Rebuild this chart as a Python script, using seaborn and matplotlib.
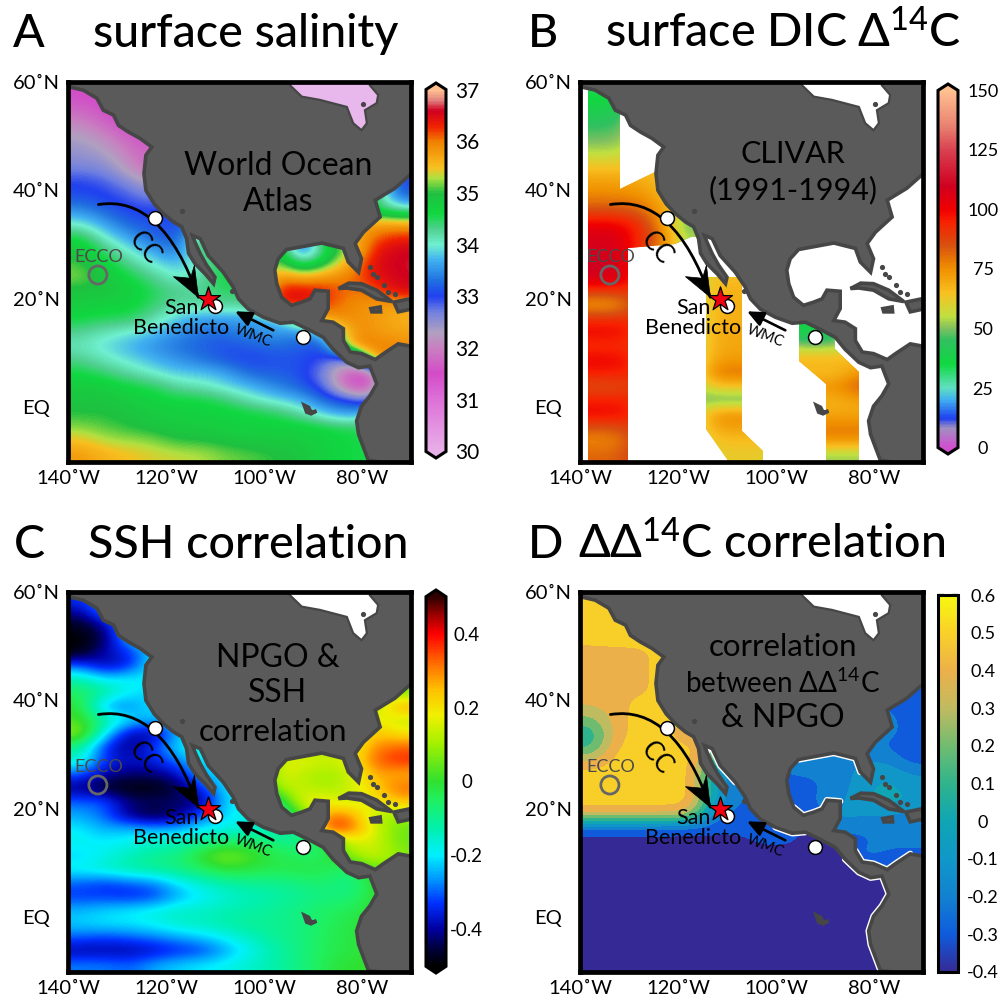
import numpy as np
import pandas as pd
import matplotlib
matplotlib.use('Agg')
import matplotlib.pyplot as plt
import seaborn as sns
from matplotlib.colors import LinearSegmentedColormap, BoundaryNorm
from matplotlib.patches import Polygon, FancyArrowPatch, PathPatch
from matplotlib.path import Path
from matplotlib.transforms import Affine2D, ScaledTranslation

sns.set_theme(style='white')
plt.rcParams['font.family'] = ['Lato', 'DejaVu Sans']
plt.rcParams['mathtext.default'] = 'regular'

# grid: 14 columns of 5 deg, 28 rows of 2.5 deg, north to south
LONS = np.arange(-137.5, -70, 5)
LATS = np.arange(58.75, -10, -2.5)

# panel A, salinity, one list per longitude column
SALT = [
    [31.5,31.6,31.9,32.2,32.4,32.5,32.7,33,33.1,33.5,34,34.6,34.9,35.1,35.2,34.9,34.8,34.6,34.3,34.1,34.3,34.6,34.8,34.9,35,35.2,35.5,35.8],
    [31.5,31.5,31.6,31.9,32.2,32.4,32.6,32.9,33,33.2,33.6,34,34.4,34.7,34.9,34.9,34.7,34.5,34.1,33.9,34.1,34.4,34.8,34.9,35,35.1,35.3,35.6],
    [31.3,31.3,31.3,31.5,31.8,32,32.2,32.6,32.9,33,33.2,33.6,34,34.3,34.6,34.8,34.7,34.5,34,33.7,33.9,34.2,34.6,34.8,34.9,35,35.25,35.5],
    [31.5]*5 + [31.6,31.7,32.2,32.6,33,33.1,33.2,33.6,34,34.3,34.5,34.4,34.2,33.8,33.5,33.7,34,34.5,34.7,34.8,34.9,35.2,35.4],
    [33]*9 + [33,33.1,33.1,33.3,33.7,34,34.3,34.2,33.8,33.5,33.3,33.5,33.8,34.2,34.6,34.75,34.8,35,35.35],
    [33.2]*11 + [34.6,34.6,34.1,34.2,34.3,34.2,33.6,33.3,33.2,33.3,33.8,34.1,34.6,34.7,34.8,35,35.3],
    [34.7]*13 + [34.7,34.7,34.5,34.3,33.6,33.3,33.1,33.1,33.6,33.9,34.4,34.7,34.7,34.9,35.15],
    [34.4]*16 + [34.2,33.6,33.5,33.2,33,33.2,33.7,34.1,34.6,34.7,34.85,35.1],
    [35]*12 + [35.3,35.5,36,36.4,36.4,33.7,33.6,33.3,33.1,33.2,33.4,33.9,34.5,34.7,34.8,35],
    [34]*11 + [33,33,34.3,35.7,36.5,36.4,35,33.4,33.2,33.1,33.1,33.2,33.7,34.2,34.7,34.8,34.9],
    [35]*12 + [34.6,35,35.9,36.3,36.2,35.9,34,33,32.9,32.6,32.8,33.2,33.8,34.6,34.7,34.7],
    [35.5]*11 + [35.5,35.3,35.8,36,36,35.9,35.9,35.9,36,32.5,31.5,31.5,33,33.5,34.5,34.6,34.6],
    [34.5]*9 + [34.5,35.8,36.1,36.4,36.5,36.4,36.1,35.8,35.8,35.8,36,36,31.5,31.5,32.5,34,34.5,34.5,34.5],
    [33]*8 + [33.2,34.2,35.7,36.3,36.6,36.6,36.6,36.5,35.7,35.6,35.7,35.9,36,36,36,36,36,36,36,36],
]

# panel B, CLIVAR sections, columns reused over each track
DIC_WEST = [33,36,41,46,50,56,66,72,77,85,100,108,108,110,108,90,72,92,100,92,100,96,85,95,100,85,76,82]
DIC_WEDGE = [60]*6 + [66,70,75,82,92,92] + [92]*16
DIC_COAST = [60]*6 + [65,65,68,70,70,78] + [70]*16
DIC_SHORE = [50]*9 + [55,40,45] + [50]*16
DIC_MID = [65]*14 + [65,68,68,68,70,70,72,80,65,45,75,72,65,62]
DIC_EAST = [40]*17 + [35,38,50,68,65,75,68,70,78,75,52]
DIC_EDGE = [65]*21 + [75,85,72,70,78,75,52]
DIC = [DIC_WEST, DIC_WEST, DIC_WEDGE, DIC_COAST, DIC_SHORE, DIC_MID, DIC_MID, DIC_MID,
       DIC_EAST, DIC_EAST, DIC_EAST, DIC_EDGE, DIC_EDGE, DIC_EDGE]

# panel C, SSH correlation
SSH = [
    [-.33,-.4,-.48,-.5,-.5,-.3,-.12,-.05,0,.02,.1,-.1,-.15,-.3,-.42,-.3,-.25,-.2,-.18,-.22,-.18,-.3,-.33,-.24,-.22,-.3,-.4,-.28],
    [-.25,-.25,-.4,-.45,-.38,-.4,-.2,-.1,-.28,-.1,-.2,-.35,-.33,-.4,-.48,-.3,-.3,-.25,-.2,-.18,-.15,-.33,-.33,-.22,-.2,-.32,-.4,-.28],
    [-.2,-.2,-.2,-.2,-.35,-.35,-.18,-.2,-.28,-.2,-.4,-.42,-.38,-.42,-.5,-.42,-.42,-.24,-.18,-.14,-.12,-.3,-.35,-.2,-.2,-.3,-.4,-.3],
    [-.2]*4 + [-.2,-.18,-.2,-.22,-.2,-.25,-.4,-.33,-.35,-.42,-.5,-.42,-.48,-.25,-.15,-.1,-.1,-.28,-.33,-.18,-.18,-.28,-.38,-.25],
    [-.2]*9 + [-.2,-.25,-.2,-.28,-.38,-.45,-.43,-.42,-.25,-.14,-.08,-.08,-.2,-.25,-.15,-.15,-.25,-.35,-.22],
    [-.15]*11 + [-.15,-.2,-.22,-.32,-.42,-.3,-.2,-.1,.02,-.05,-.15,-.2,-.15,-.14,-.22,-.33,-.2],
    [-.2]*13 + [-.22,-.2,-.2,-.2,-.18,-.05,.08,0,-.12,-.16,-.13,-.12,-.18,-.25,-.18],
    [-.18]*16 + [-.18,-.16,-.05,.02,-.02,-.1,-.14,-.12,-.1,-.14,-.18,-.15],
    [.1]*12 + [.15,.18,.12,-.1,-.15,-.15,-.08,-.03,-.03,-.1,-.12,-.1,-.1,-.1,-.12,-.12],
    [.1]*12 + [.18,.12,.14,.18,0,-.12,-.1,-.05,-.02,-.08,-.1,-.08,-.08,-.08,-.08,-.08],
    [.1]*12 + [.14,.1,.1,.18,.3,.4,-.05,-.05,-.03,-.06,-.08,-.05,-.05,-.04,-.04,-.03],
    [.1]*10 + [.15,.15,.17,.12,.15,.12,.3,.35,.15,.1,-.08,-.1,-.08,-.04,-.02,-.02,-.02,0],
    [.2]*8 + [.1,.2,.25,.3,.33,.28,.22,.2,.1,.15,.15,.15,.05,0,0,0,0,0,0,0],
    [.05]*8 + [.3,.12,.2,.33,.38,.25,.33,.25,.1,.05,.05,.08] + [.05]*8,
]

# panel D, delta delta 14C correlation
DDC = [
    [.5]*4 + [.4,.4,.4,.4,.35,.2,.05,.1,.35,.5,.5,.5,.35,-.3] + [-.4]*10,
    [.5]*4 + [.42,.42,.45,.45,.4,.42,.42,.48,.5,.5,.5,.5,.35,-.3] + [-.4]*10,
    [.5]*4 + [.42,.42,.42,.42,.5,.5,.5,.5,.5,.5,.5,.5,.35,-.3] + [-.4]*10,
    [.5]*16 + [.35,-.3] + [-.4]*10,
    [.5]*10 + [.3,.5,.5,.5,.5,.5,.3,-.3] + [-.4]*10,
    [.3]*12 + [.1,-.1,-.05,-.1,-.25,-.3] + [-.4]*10,
    [-.25]*13 + [-.25,-.25,-.25,-.28,-.33,-.38] + [-.4]*9,
    [-.3]*17 + [-.3,-.33] + [-.4]*9,
    [-.25]*12 + [-.2,-.25,-.25,-.3,-.3,-.3,-.33] + [-.4]*9,
    [-.25]*12 + [-.22,-.25,-.28,-.25,-.35,-.38,-.4] + [-.4]*9,
    [-.25]*12 + [-.2,-.2,-.2,-.2,-.1,-.15,-.4] + [-.4]*9,
    [-.25]*12 + [-.15,-.12,-.1,-.05,-.15,-.25,-.25,-.2] + [-.4]*8,
    [-.25]*9 + [-.2,-.2,-.25,-.15,-.05,0,0,-.15,-.2,-.25,-.25] + [-.4]*8,
    [-.3]*9 + [-.3,-.3,-.33,-.3,-.15,-.1,-.05,-.2,-.25,-.25,-.25] + [-.25]*8,
]

# colour scales, (value, colour)
SALT_COLORS = [(30,'#E8B0E8'),(31,'#DD70D8'),(31.5,'#D34CC8'),(32,'#C880C0'),(32.3,'#B0A0C0'),(32.7,'#7080E0'),
               (33,'#2040F0'),(33.3,'#2070E0'),(33.7,'#40B0F0'),(34,'#70F0D0'),(34.3,'#50D090'),(34.6,'#10D840'),
               (35,'#20C040'),(35.3,'#B0E040'),(35.5,'#F8C020'),(36,'#F08000'),(36.3,'#F02000'),(36.6,'#D00020'),
               (36.8,'#E08080'),(37,'#FFC090')]
DIC_COLORS = [(0,'#D050D0'),(8,'#A090C0'),(12,'#2040F0'),(20,'#40B0F0'),(25,'#60E0C0'),(35,'#10D840'),(45,'#30C060'),
              (50,'#80C060'),(55,'#C0E040'),(65,'#F8C020'),(75,'#F09000'),(85,'#D85010'),(95,'#F82000'),(100,'#F00000'),
              (110,'#D00020'),(125,'#D84050'),(135,'#E88070'),(150,'#FFC090')]
SSH_COLORS = [(-.5,'#000000'),(-.45,'#000040'),(-.4,'#0000A0'),(-.33,'#0030FF'),(-.27,'#0090FF'),(-.2,'#00F0FF'),
              (-.13,'#00F0B0'),(-.05,'#20F060'),(0,'#30E030'),(.1,'#A0F000'),(.18,'#F0F000'),(.25,'#FFC000'),
              (.33,'#FF6000'),(.4,'#FF0000'),(.45,'#A00000'),(.5,'#300000')]
DDC_COLORS = [(-.4,'#352A95'),(-.3,'#0F5CDD'),(-.2,'#1282D0'),(-.1,'#1098C8'),(0,'#0FA5B4'),(.1,'#30B48C'),
              (.2,'#70BC70'),(.3,'#C0BB60'),(.4,'#ECB04A'),(.5,'#F9D029'),(.6,'#F8F810')]

# coast outline, lon / lat
COAST_LON = [-140,-139.3,-136.9,-134.1,-132.8,-130.7,-129.7,-127.7,-125.3,-122.9,-124.1,-124.5,-124.1,-122.4,-120.5,
             -118.5,-116.8,-115.8,-115.4,-114.1,-112,-110.3,-110,-111.7,-113,-114.1,-114.6,-113,-111.4,-108.3,-106.3,
             -105.2,-103.2,-100.1,-96.7,-94,-90.6,-87.9,-85.9,-83.1,-80.7,-78.4,-77,-78.4,-80.1,-81.1,-80.7,-78.7,
             -69,-69,-72.6,-75.6,-77.3,-80.1,-82.4,-83.8,-83.8,-85.9,-88.2,-86.9,-86.9,-89.6,-90.6,-92.3,-94.4,-96.4,
             -97.4,-97.8,-97.1,-95.4,-90.6,-88.2,-83.8,-82.8,-80.7,-80.1,-81.4,-79.7,-76.3,-77.3,-73.3,-70.3,-69,-69,-140]
COAST_LAT = [59.8,59,58.5,57,54.8,53.9,52,50.8,49.6,48,46.5,43.1,40,37.5,35.7,34.2,33.3,31.1,28.4,26.5,24.6,22.8,24,
             26.2,28.3,30.5,31.7,31.1,28,24.9,22.2,20,18.1,16.6,15.5,15.7,14.2,12.9,10.7,8.3,7.3,7.6,4.3,2.1,0.2,-2.5,
             -5,-9.8,-11,11.1,11.7,9.9,8.8,9.9,10.2,12.3,14.5,15.7,16,18.2,21.4,21.6,20,19.4,18.8,20.3,22.8,25.3,27.4,
             29.1,29.9,30.3,29.3,26.8,24.9,27.4,30.2,32.3,35.1,38.2,40.4,42.8,42.8,61,61]
HUDSON_LON = [-94.7,-92.3,-88.6,-83.1,-81.8,-80.1,-79,-79.4,-77,-76.7,-78.4,-78.4,-94.7]
HUDSON_LAT = [59.4,57.3,56.7,55.4,52.4,51.1,52.4,54.8,56.1,57.6,59.4,61,61]
CUBA_LON = [-84.8,-82.7,-80.1,-77,-73.9,-77,-80.1,-83.1]
CUBA_LAT = [21.9,22.9,22.8,21.6,19.5,20,21.6,22]
HISPANIOLA_LON = [-73.5,-70.3,-69.5,-72.6]
HISPANIOLA_LAT = [19.4,20,18.2,17.6]
JAMAICA_LON = [-78.2,-76.3,-76.2,-78]
JAMAICA_LAT = [18.2,18.5,17.6,17.6]
GALAPAGOS_LON = [-91.8,-90.9,-90.4,-89.3,-90.4,-91.3]
GALAPAGOS_LAT = [0.4,0.0,-0.9,-0.7,-1.2,-0.9]
ISLES_LON = [-78.4,-77.7,-77,-75.6,-74.6,-73.3,-79.7,-116.8,-106.5]
ISLES_LAT = [25.9,24.6,24,22.5,21.2,20.9,55.9,36.2,21.4]
# coast stretches with a white rim in panel D, index ranges into COAST_*
FRINGES = [(25, 30), (33, 36), (38, 48), (50, 56), (60, 66), (69, 74)]

# CLIVAR tracks in panel B
TRACK_WEST_LON = [-138.4,-131.8,-131.8,-124.6,-118,-113,-117.3,-120.7,-130.3,-130.3,-138.4]
TRACK_WEST_LAT = [60,60,40.3,43.4,43,31.5,31.4,30.2,29.4,-10,-10]
TRACK_MID_LON = [-114.2,-106.9,-106.9,-102.7,-102.7,-109.5,-114.2]
TRACK_MID_LAT = [24.1,24.1,-4.3,-8,-10,-10,-4]
TRACK_EAST_LON = [-95.3,-88.2,-88,-83,-83,-89.7,-89.7,-95.3]
TRACK_EAST_LAT = [15.7,15.7,10.8,6.5,-10,-10,4.3,8.6]

# sites
SITE_LON = [-122.2, -92, -110]
SITE_LAT = [35, 12.9, 18.7]
STAR_LON, STAR_LAT = -111.4, 20
ECCO_LON, ECCO_LAT = -133.9, 24.4
CC_LON = [-133.8, -120.8, -113.4]
CC_LAT = [37.4, 39.3, 20.3]
CC_HEAD_LON = [-113.4, -118.5, -115, -114.2]
CC_HEAD_LAT = [20.3, 24.1, 23.8, 26.2]
WMC_LON = [-98.1, -105.9]
WMC_LAT = [14.2, 17.7]

XTICK_LON = [-140, -120, -100, -80]
XTICK_TXT = ['140˚W', '120˚W', '100˚W', '80˚W']
YTICK_LAT = [60, 40, 20, 0]
YTICK_TXT = ['60˚N', '40˚N', '20˚N', 'EQ']

LAND = '#5A5A5A'
EDGE = '#464646'

fig = plt.figure(figsize=(10, 10), dpi=100, facecolor='white')
px = Affine2D().scale(1 / 1000, -1 / 1000).translate(0, 1) + fig.transFigure


def make_cmap(nodes):
    lo, hi = nodes[0][0], nodes[-1][0]
    return LinearSegmentedColormap.from_list('m', [((v - lo) / (hi - lo), c) for v, c in nodes], N=256)


def draw_panel(columns, nodes, box, cbox, ticks, labels, extend, dx, dy, hudson, stepped=False, tracks=None, label_size=15, label_pad=15):
    ax = fig.add_axes([box[0] / 1000, 1 - box[3] / 1000, (box[2] - box[0]) / 1000, (box[3] - box[1]) / 1000])
    cax = fig.add_axes([cbox[0] / 1000, 1 - cbox[3] / 1000, (cbox[2] - cbox[0]) / 1000, (cbox[3] - cbox[1]) / 1000])
    grid = pd.DataFrame(np.array(columns, dtype=float).T, index=LATS, columns=LONS)
    cmap = make_cmap(nodes)
    cmap = cmap.with_extremes(under=cmap(0.0), over=cmap(1.0))
    vmin, vmax = nodes[0][0], nodes[-1][0]
    kws = {'ticks': ticks}
    if extend:
        kws.update(extend='both', extendfrac=0.018)
    sns.heatmap(grid, ax=ax, cbar_ax=cax, cmap=cmap, vmin=vmin, vmax=vmax, xticklabels=False, yticklabels=False, cbar_kws=kws)
    mesh = ax.collections[0]
    # smooth version of the same cells, over the blocks
    im_kws = {'vmin': vmin, 'vmax': vmax}
    if stepped:
        im_kws = {'norm': BoundaryNorm(np.arange(-.45, .66, .1), 256)}
    im = ax.imshow(grid.values, cmap=cmap, aspect='auto', interpolation='bicubic', extent=(0, 14, 28, 0), zorder=2, **im_kws)
    ax.set_xlim(0, 14)
    ax.set_ylim(28, 0)
    ax.autoscale(False)
    ax.set_facecolor('white')
    geo = Affine2D().translate(140, -60).scale(1 / 70, 1 / 70).translate(0, 1) + ax.transAxes

    if tracks is not None:
        paths = [Path(np.column_stack([lo, la]), closed=False) for lo, la in tracks]
        clip = PathPatch(Path.make_compound_path(*paths), transform=geo)
        mesh.set_clip_path(clip)
        im.set_clip_path(clip)

    if stepped:
        for a, b in FRINGES:
            ax.plot(COAST_LON[a:b], COAST_LAT[a:b], color='white', lw=4.6, transform=geo, zorder=2.9)

    # land on top of the field
    for lo, la in [(COAST_LON, COAST_LAT), (CUBA_LON, CUBA_LAT), (HISPANIOLA_LON, HISPANIOLA_LAT),
                   (JAMAICA_LON, JAMAICA_LAT), (GALAPAGOS_LON, GALAPAGOS_LAT)]:
        ax.add_patch(Polygon(np.column_stack([lo, la]), closed=True, fc=LAND, ec=EDGE, lw=2.6, transform=geo, zorder=3))
    ax.add_patch(Polygon(np.column_stack([HUDSON_LON, HUDSON_LAT]), closed=True, fc=hudson, ec=EDGE, lw=1.6, transform=geo, zorder=3.1))
    ax.scatter(ISLES_LON, ISLES_LAT, s=14, c=EDGE, lw=0, transform=geo, zorder=3.2)

    # currents
    cc = Path(np.column_stack([CC_LON, CC_LAT]), [Path.MOVETO, Path.CURVE3, Path.CURVE3])
    ax.add_patch(FancyArrowPatch(path=cc, arrowstyle='-', mutation_scale=1, lw=2, color='black', transform=geo, zorder=5))
    ax.add_patch(Polygon(np.column_stack([CC_HEAD_LON, CC_HEAD_LAT]), closed=True, fc='black', ec='black', lw=0.5, transform=geo, zorder=5))
    wmc = Path(np.column_stack([WMC_LON, WMC_LAT]))
    ax.add_patch(FancyArrowPatch(path=wmc, arrowstyle='-|>,head_length=10,head_width=4.5', mutation_scale=1, lw=1.9, color='black',
                                 transform=geo, zorder=5))

    ax.scatter(SITE_LON, SITE_LAT, s=100, c='white', edgecolors='black', lw=1.1, transform=geo, zorder=6)
    ax.scatter([STAR_LON], [STAR_LAT], s=330, marker='*', c='#F00010', edgecolors='black', lw=0.9, transform=geo, zorder=7)
    ax.scatter([ECCO_LON], [ECCO_LAT], s=170, facecolors='none', edgecolors='#666666', lw=2, transform=geo, zorder=6)

    fig.text(99 + dx, 257 + dy, 'ECCO', transform=px, fontsize=13, color='#4A4A4A', ha='center', va='center', zorder=8)
    fig.text(181 + dx, 308 + dy, 'San', transform=px, fontsize=15.5, color='black', ha='center', va='center', zorder=8)
    fig.text(181 + dx, 328 + dy, 'Benedicto', transform=px, fontsize=15.5, color='black', ha='center', va='center', zorder=8)
    fig.text(253 + dx, 336 + dy, 'WMC', transform=px, fontsize=10.5, color='black', rotation=-21, ha='center', va='center', zorder=8)
    fig.text(145 + dx, 248 + dy, 'CC', transform=px, fontsize=18.5, color='black', rotation=-50, ha='center', va='center', zorder=8)

    ax.set_xticks([(v + 140) / 5 for v in XTICK_LON])
    ax.set_xticklabels(XTICK_TXT, fontsize=14.5, color='black')
    ax.set_yticks([(60 - v) / 2.5 for v in YTICK_LAT])
    ax.set_yticklabels(YTICK_TXT, fontsize=14.5, color='black', rotation=0)
    ax.tick_params(axis='both', length=0, pad=6, bottom=True, left=True, labelbottom=True, labelleft=True)
    eq = ax.get_yticklabels()[-1]
    eq.set_transform(eq.get_transform() + ScaledTranslation(-0.1, 0, fig.dpi_scale_trans))
    for s in ax.spines.values():
        s.set_visible(True)
        s.set_linewidth(3.4)
        s.set_color('black')
        s.set_zorder(10)

    cb = mesh.colorbar
    cb.outline.set_visible(True)
    cb.outline.set_linewidth(2.2)
    cb.outline.set_edgecolor('black')
    cb.set_ticks(ticks, labels=labels)
    cb.ax.tick_params(direction='in', length=4, width=1.6, left=True, right=True, labelsize=label_size, pad=label_pad, colors='black')
    for t in cb.ax.get_yticklabels():
        t.set_ha('center')
    return ax


SALT_TICKS = [30, 31, 32, 33, 34, 35, 36, 37]
DIC_TICKS = [0, 25, 50, 75, 100, 125, 150]
SSH_TICKS = [-.4, -.2, 0, .2, .4]
SSH_LABELS = ['-0.4', '-0.2', '0', '0.2', '0.4']
DDC_TICKS = [-.4, -.3, -.2, -.1, 0, .1, .2, .3, .4, .5, .6]
DDC_LABELS = ['-0.4', '-0.3', '-0.2', '-0.1', '0', '0.1', '0.2', '0.3', '0.4', '0.5', '0.6']

draw_panel(SALT, SALT_COLORS, (68, 82, 411, 461.5), (426, 83, 446, 458), SALT_TICKS, [str(v) for v in SALT_TICKS], True, 0, 0, '#E8B8EC', label_size=15)
draw_panel(DIC, DIC_COLORS, (580, 82, 923, 461.5), (938, 84, 958, 454), DIC_TICKS, [str(v) for v in DIC_TICKS], True, 512, 0, 'white',
           tracks=[(TRACK_WEST_LON, TRACK_WEST_LAT), (TRACK_MID_LON, TRACK_MID_LAT), (TRACK_EAST_LON, TRACK_EAST_LAT)], label_size=13, label_pad=18)
draw_panel(SSH, SSH_COLORS, (68, 592, 411, 971.5), (426, 590, 446, 973), SSH_TICKS, SSH_LABELS, True, 0, 510, 'white', label_size=13.5)
draw_panel(DDC, DDC_COLORS, (580, 592, 923, 971.5), (938, 595, 958, 972), DDC_TICKS, DDC_LABELS, False, 512, 510, 'white', stepped=True, label_size=13, label_pad=18)

TITLE = 33.5
fig.text(13, 47, 'A', transform=px, fontsize=TITLE, color='black', fontweight='medium')
fig.text(93, 47, 'surface salinity', transform=px, fontsize=TITLE, color='black', fontweight='medium')
fig.text(528, 47, 'B', transform=px, fontsize=TITLE, color='black', fontweight='medium')
fig.text(605, 47, 'surface DIC Δ$^{14}$C', transform=px, fontsize=TITLE, color='black', fontweight='medium')
fig.text(14, 558, 'C', transform=px, fontsize=TITLE, color='black', fontweight='medium')
fig.text(88, 558, 'SSH correlation', transform=px, fontsize=TITLE, color='black', fontweight='medium')
fig.text(528, 558, 'D', transform=px, fontsize=TITLE, color='black', fontweight='medium')
fig.text(578, 558, 'ΔΔ$^{14}$C correlation', transform=px, fontsize=TITLE, color='black', fontweight='medium')

for x, y, txt, size in [(278, 166, 'World Ocean', 23), (278, 202, 'Atlas', 23),
                        (793, 154, 'CLIVAR', 22), (793, 190, '(1991-1994)', 22),
                        (278, 658, 'NPGO &', 23), (278, 693, 'SSH', 23), (273, 732, 'correlation', 22.5),
                        (783, 647, 'correlation', 22.5), (783, 683, 'between ΔΔ$^{14}$C', 20), (783, 718, '& NPGO', 23)]:
    fig.text(x, y, txt, transform=px, fontsize=size, color='black', ha='center', va='center', zorder=8)

fig.savefig('out.png', dpi=100, facecolor='white')
